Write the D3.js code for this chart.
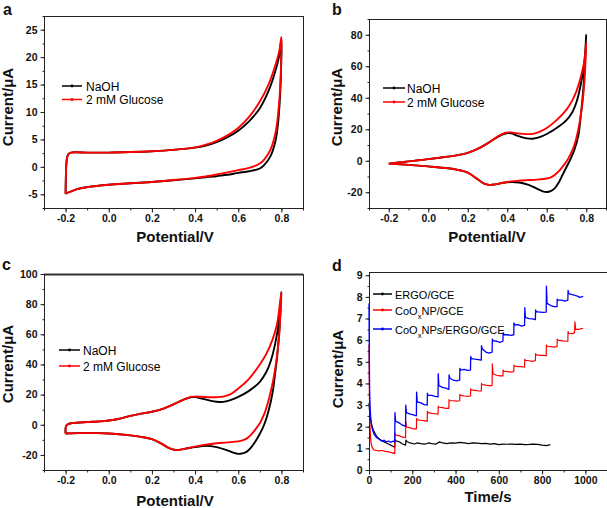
<!DOCTYPE html>
<html><head><meta charset="utf-8">
<script src="https://cdn.jsdelivr.net/npm/d3@7"></script>
<style>
body{margin:0;background:#fff;}
svg{display:block;}
text{font-family:"Liberation Sans", Arial, sans-serif;}
</style>
</head><body>
<svg id="c" width="607" height="508"></svg>
<script>
// ---------------- DATA ----------------
const cvXTicks = [-0.2, 0.0, 0.2, 0.4, 0.6, 0.8];
const aYTicks = [-5, 0, 5, 10, 15, 20, 25];
const bYTicks = [-20, 0, 20, 40, 60, 80];
const cYTicks = [-20, 0, 20, 40, 60, 80, 100];
const dXTicks = [0, 200, 400, 600, 800, 1000];
const dYTicks = [0, 1, 2, 3, 4, 5, 6, 7, 8, 9];
const cvLegend = ["NaOH", "2 mM Glucose"];
const dLegend = ["ERGO/GCE", "CoOxNP/GCE", "CoOxNPs/ERGO/GCE"];
const panelLetters = ["a", "b", "c", "d"];

// panel a : CV (Potential V, Current uA)
const aNaOH = [[-0.2,-4.9],[-0.199,-2.5],[-0.197,0.2],[-0.193,1.7],[-0.186,2.35],[-0.175,2.6],[-0.15,2.65],[-0.1,2.6],[0,2.6],[0.1,2.7],[0.2,2.85],[0.3,3.1],[0.4,3.5],[0.45,3.9],[0.5,4.5],[0.55,5.4],[0.6,6.6],[0.65,8.3],[0.7,10.7],[0.74,13.8],[0.77,17.2],[0.79,20.3],[0.8,23.3],
 [0.799,19],[0.795,14],[0.788,9.5],[0.78,6.5],[0.77,4.3],[0.75,2.0],[0.72,0.3],[0.7,-0.3],[0.65,-0.8],[0.6,-1.1],[0.55,-1.45],[0.5,-1.7],[0.45,-1.9],[0.4,-2.1],[0.3,-2.45],[0.2,-2.75],[0.1,-3.0],[0,-3.25],[-0.1,-3.7],[-0.15,-4.1],[-0.2,-4.9]];
const aGlucose = [[-0.2,-4.9],[-0.199,-2.5],[-0.197,0.2],[-0.193,1.7],[-0.186,2.35],[-0.175,2.6],[-0.15,2.65],[-0.1,2.6],[0,2.6],[0.1,2.7],[0.2,2.85],[0.3,3.1],[0.4,3.55],[0.45,4.05],[0.5,4.75],[0.55,5.75],[0.6,7.1],[0.65,9.1],[0.7,11.9],[0.74,15.0],[0.77,18.3],[0.79,21.1],[0.8,23.7],
 [0.799,19.5],[0.795,15],[0.788,11],[0.78,8],[0.77,5.7],[0.75,3.2],[0.72,1.3],[0.7,0.6],[0.65,-0.2],[0.6,-0.6],[0.55,-1.0],[0.5,-1.4],[0.45,-1.75],[0.4,-2.0],[0.3,-2.4],[0.2,-2.75],[0.1,-3.0],[0,-3.25],[-0.1,-3.7],[-0.15,-4.1],[-0.2,-4.9]];

// panel b
const bNaOH = [[-0.2,-1.8],[-0.15,-1.1],[-0.1,-0.4],[-0.05,0.3],[0,1.0],[0.05,1.8],[0.1,2.6],[0.15,3.6],[0.2,5.0],[0.25,7.5],[0.3,11],[0.35,15],[0.39,17.3],[0.42,17.4],[0.45,16],[0.5,14.2],[0.53,14],[0.56,14.8],[0.6,17],[0.65,20.8],[0.7,25.8],[0.73,31],[0.75,37],[0.77,47],[0.79,62],[0.8,80],
 [0.795,66],[0.79,54],[0.78,38],[0.77,26],[0.76,16],[0.74,7],[0.72,1],[0.7,-4],[0.68,-9],[0.66,-14],[0.64,-17.5],[0.62,-19.3],[0.6,-19.8],[0.58,-19.4],[0.56,-18.3],[0.53,-16.5],[0.5,-15],[0.46,-13.8],[0.42,-13.5],[0.38,-14],[0.34,-15],[0.31,-15.3],[0.28,-14.3],[0.25,-11.8],[0.2,-7.5],[0.15,-5.8],[0.1,-4.8],[0,-3.6],[-0.1,-2.6],[-0.2,-1.8]];
const bGlucose = [[-0.2,-1.8],[-0.15,-1.1],[-0.1,-0.4],[-0.05,0.3],[0,1.0],[0.05,1.8],[0.1,2.6],[0.15,3.6],[0.2,5.0],[0.25,7.5],[0.3,11],[0.35,15.2],[0.39,17.8],[0.42,18],[0.45,17.4],[0.5,16.9],[0.53,17.1],[0.56,18.2],[0.6,20.8],[0.65,25.8],[0.7,32.5],[0.73,38.5],[0.75,44],[0.77,52],[0.79,63],[0.8,75],
 [0.795,60],[0.79,49],[0.78,36],[0.76,20],[0.74,10],[0.72,4],[0.7,-0.5],[0.68,-3.8],[0.66,-6.8],[0.64,-9],[0.62,-10.5],[0.6,-11.3],[0.55,-12],[0.5,-12.3],[0.46,-12.6],[0.42,-13.1],[0.38,-14],[0.34,-15],[0.31,-15.3],[0.28,-14.3],[0.25,-11.8],[0.2,-7.5],[0.15,-5.8],[0.1,-4.8],[0,-3.6],[-0.1,-2.6],[-0.2,-1.8]];

// panel c
const cNaOH = [[-0.2,-5.8],[-0.2,-2.5],[-0.197,-0.6],[-0.19,0.3],[-0.175,1.0],[-0.15,1.3],[-0.1,1.8],[-0.05,2.2],[0,2.8],[0.05,4.0],[0.1,5.9],[0.15,7.4],[0.2,8.6],[0.25,10.5],[0.3,13.5],[0.35,16.8],[0.38,18.2],[0.4,18.3],[0.43,17.4],[0.47,16],[0.5,15.3],[0.53,15.2],[0.56,16.2],[0.6,18.5],[0.65,22.5],[0.7,28.5],[0.73,35],[0.75,42],[0.77,53],[0.79,70],[0.8,88],
 [0.795,74],[0.79,62],[0.78,45],[0.77,33],[0.76,22],[0.74,9],[0.72,0],[0.7,-6],[0.68,-11],[0.66,-15],[0.64,-17.8],[0.62,-19],[0.6,-19.3],[0.58,-18.7],[0.55,-17],[0.5,-14.8],[0.45,-14],[0.4,-14.8],[0.35,-16],[0.31,-16.7],[0.28,-15.5],[0.25,-13],[0.2,-9.5],[0.15,-8],[0.1,-7],[0,-5.8],[-0.1,-5.4],[-0.2,-5.8]];
const cGlucose = [[-0.2,-5.8],[-0.2,-2.5],[-0.197,-0.6],[-0.19,0.3],[-0.175,1.0],[-0.15,1.3],[-0.1,1.8],[-0.05,2.2],[0,2.8],[0.05,4.0],[0.1,5.9],[0.15,7.4],[0.2,8.6],[0.25,10.5],[0.3,13.5],[0.35,16.9],[0.38,18.5],[0.4,18.7],[0.43,18.6],[0.47,18.3],[0.5,18.3],[0.53,18.7],[0.56,20],[0.6,24],[0.65,30.5],[0.7,40],[0.73,47],[0.76,57],[0.78,67],[0.8,88],
 [0.795,72],[0.79,60],[0.78,46],[0.77,36],[0.76,28],[0.74,16],[0.72,7],[0.7,1],[0.68,-3],[0.66,-6.5],[0.64,-9],[0.62,-10.3],[0.6,-11],[0.55,-11.7],[0.5,-12.3],[0.45,-13.2],[0.4,-14.5],[0.35,-16],[0.32,-16.8],[0.3,-16.5],[0.27,-14.8],[0.25,-13],[0.2,-9.5],[0.15,-8],[0.1,-7],[0,-5.8],[-0.1,-5.4],[-0.2,-5.8]];

// panel d : amperometric i-t (Time s, Current uA)
const dErgo = [[0,3.1],[2,2.8],[5,2.5],[10,2.2],[15,2.0],[20,1.85],[30,1.65],[40,1.5],[50,1.42],[60,1.35],[70,1.3],[80,1.25],[90,1.2],[100,1.15],[110,1.1],[119,1.05],[121,1.4],[125,1.35],[140,1.3],[155,1.2],[169,1.15],[171,1.38],[175,1.32],[190,1.25],[210,1.2],[222,1.25],[240,1.22],[260,1.2],[274,1.25],[290,1.22],[310,1.2],[326,1.3],[340,1.25],[360,1.22],[378,1.25],[400,1.24],[420,1.28],[440,1.25],[460,1.22],[480,1.25],[500,1.24],[520,1.22],[540,1.23],[560,1.2],[580,1.22],[600,1.17],[620,1.2],[640,1.19],[660,1.2],[680,1.18],[700,1.2],[720,1.17],[740,1.18],[760,1.2],[780,1.18],[800,1.15],[820,1.13],[838,1.17]];
const dCoOx = [[0,5.8],[1,4.3],[2,3.3],[4,2.3],[6,1.7],[9,1.3],[13,1.08],[18,0.98],[25,0.92],[35,0.9],[45,0.88],[60,0.9],[75,0.86],[90,0.84],[105,0.8],[119,0.76],
 [120,1.72],[123,1.62],[140,1.58],[155,1.52],[169,1.5],
 [170,2.25],[173,2.0],[190,1.95],[205,1.9],[219,1.9],
 [220,2.38],[223,2.32],[240,2.3],[255,2.28],[269,2.25],
 [270,2.72],[273,2.65],[290,2.62],[305,2.6],[319,2.58],
 [320,2.95],[323,2.9],[340,2.88],[355,2.85],[369,2.85],
 [370,3.25],[373,3.2],[390,3.2],[405,3.18],[419,3.2],
 [420,3.5],[423,3.45],[440,3.42],[455,3.4],[469,3.42],
 [470,3.75],[473,3.7],[490,3.68],[505,3.65],[519,3.65],
 [520,4.0],[523,3.95],[540,3.92],[555,3.9],[569,3.9],
 [570,4.9],[573,4.45],[590,4.38],[605,4.35],[619,4.35],
 [620,4.62],[623,4.57],[640,4.55],[655,4.52],[669,4.55],
 [670,4.85],[673,4.8],[690,4.78],[705,4.78],[719,4.75],
 [720,5.12],[723,5.07],[740,5.05],[755,5.02],[769,5.05],
 [770,5.38],[773,5.32],[790,5.3],[805,5.3],[819,5.28],
 [820,5.78],[823,5.72],[840,5.7],[855,5.68],[869,5.7],
 [870,6.05],[873,6.0],[890,5.98],[905,5.95],[919,5.95],
 [920,6.4],[923,6.32],[940,6.3],[950,6.35],[952,6.85],[955,6.5],[970,6.5],[990,6.55]];
const dCoOxErgo = [[0,7.7],[1,6.0],[2,4.6],[3,3.7],[5,2.9],[8,2.4],[12,2.05],[18,1.8],[25,1.62],[35,1.5],[50,1.4],[60,1.33],[70,1.38],[80,1.3],[90,1.34],[100,1.28],[110,1.33],[119,1.3],
 [120,2.65],[123,2.25],[135,2.2],[150,2.1],[169,2.02],
 [170,3.0],[173,2.65],[190,2.58],[205,2.55],[219,2.5],
 [220,3.6],[223,3.15],[240,3.1],[255,3.02],[269,3.0],
 [270,3.55],[273,3.45],[290,3.45],[305,3.4],[319,3.38],
 [320,4.45],[323,3.9],[340,3.82],[355,3.78],[369,3.72],
 [370,4.4],[373,4.25],[390,4.15],[405,4.12],[419,4.15],
 [420,4.7],[423,4.62],[440,4.65],[455,4.6],[469,4.62],
 [470,5.25],[473,5.15],[490,5.12],[505,5.1],[519,5.08],
 [520,5.75],[523,5.6],[540,5.45],[555,5.4],[569,5.45],
 [570,6.05],[573,5.98],[590,5.95],[605,5.9],[619,5.95],
 [620,6.35],[623,6.25],[640,6.25],[655,6.22],[669,6.25],
 [670,6.8],[673,6.7],[690,6.72],[705,6.65],[719,6.68],
 [720,7.5],[723,7.05],[740,7.0],[755,6.98],[769,6.95],
 [770,7.4],[773,7.32],[790,7.3],[805,7.28],[819,7.3],
 [820,8.5],[823,7.7],[840,7.6],[855,7.55],[869,7.55],
 [870,7.9],[873,7.85],[890,7.85],[905,7.8],[919,7.85],
 [920,8.3],[923,8.15],[940,8.1],[960,8.05],[975,7.98],[990,8.02]];

// ---------------- DRAWING ----------------
const svg = d3.select("#c");
svg.append("rect").attr("width", 607).attr("height", 508).attr("fill", "#fff");

const fmt1 = v => (v < -1e-9 ? "-" : "") + Math.abs(v).toFixed(1);
const fmt0 = v => (v < -1e-9 ? "-" : "") + Math.abs(v).toFixed(0);

function panel(o) {
  const x = d3.scaleLinear().domain(o.xDomain).range([o.l, o.r]);
  const y = d3.scaleLinear().domain(o.yDomain).range([o.b, o.t]);
  const g = svg.append("g");

  const line = d3.line().x(d => x(d[0])).y(d => y(d[1]))
    .curve(o.smooth ? d3.curveCatmullRom.alpha(0.5) : d3.curveLinear);
  o.series.forEach(s => {
    g.append("path").attr("d", line(s.data)).attr("fill", "none")
      .attr("stroke", s.color).attr("stroke-width", s.width)
      .attr("stroke-linejoin", "round");
  });

  g.append("rect").attr("x", o.l + 0.5).attr("y", o.t + 0.5)
    .attr("width", o.r - o.l).attr("height", o.b - o.t)
    .attr("fill", "none").attr("stroke", "#222").attr("stroke-width", 1);
  if (o.thickTop) {
    g.append("line").attr("x1", o.l).attr("x2", o.r).attr("y1", o.t + 0.5).attr("y2", o.t + 0.5)
      .attr("stroke", "#333").attr("stroke-width", 2);
  }

  const xa = g.append("g").attr("transform", `translate(0,${o.b + 0.5})`)
    .call(d3.axisBottom(x).tickValues(o.xTicks).tickSize(4).tickPadding(2).tickFormat(o.xFmt));
  const xm = g.append("g").attr("transform", `translate(0,${o.b + 0.5})`)
    .call(d3.axisBottom(x).tickValues(o.xMinor).tickSize(2).tickFormat(""));
  const ya = g.append("g").attr("transform", `translate(${o.l + 0.5},0)`)
    .call(d3.axisLeft(y).tickValues(o.yTicks).tickSize(4).tickPadding(3).tickFormat(o.yFmt));
  const ym = g.append("g").attr("transform", `translate(${o.l + 0.5},0)`)
    .call(d3.axisLeft(y).tickValues(o.yMinor).tickSize(2).tickFormat(""));
  [xa, xm, ya, ym].forEach(a => {
    a.select(".domain").remove();
    a.selectAll("line").attr("stroke", "#222");
    a.selectAll("text").attr("font-family", "Liberation Sans, Arial, sans-serif")
      .attr("font-size", 10.5).attr("font-weight", "bold").attr("fill", "#111");
  });

  g.append("text").attr("x", o.xt[0]).attr("y", o.xt[1]).attr("text-anchor", "middle")
    .attr("font-size", 15).attr("font-weight", "bold").attr("fill", "#111").text(o.xTitle);
  g.append("text").attr("transform", `translate(${o.yt[0]},${o.yt[1]}) rotate(-90)`)
    .attr("text-anchor", "middle").attr("font-size", 15).attr("font-weight", "bold").attr("fill", "#111")
    .text("Current/μA");
  g.append("text").attr("x", o.letter[0]).attr("y", o.letter[1])
    .attr("font-size", 16).attr("font-weight", "bold").attr("fill", "#111").text(o.letterText);

  o.legend.forEach((L, i) => {
    const ly = o.leg.y[i];
    g.append("line").attr("x1", o.leg.x1).attr("x2", o.leg.x2).attr("y1", ly).attr("y2", ly)
      .attr("stroke", L.color).attr("stroke-width", 1.5);
    g.append("circle").attr("cx", (o.leg.x1 + o.leg.x2) / 2).attr("cy", ly).attr("r", 1.4).attr("fill", L.color);
    const t = g.append("text").attr("x", o.leg.tx).attr("y", ly + 4.5)
      .attr("font-size", o.leg.fs).attr("fill", "#000");
    if (L.sub) {
      t.append("tspan").text(L.label.slice(0, 3));
      t.append("tspan").attr("dy", 4).attr("font-size", o.leg.fs * 0.7).text("x");
      t.append("tspan").attr("dy", -4).text(L.label.slice(4));
    } else {
      t.text(L.label);
    }
  });
}

const cvXMinor = d3.range(-0.3, 0.91, 0.1);

panel({
  l: 44, t: 16, r: 303, b: 208, xDomain: [-0.3, 0.9], yDomain: [-7.5, 27.5], smooth: true,
  xTicks: cvXTicks, xMinor: cvXMinor, yTicks: aYTicks, yMinor: d3.range(-7.5, 27.6, 2.5),
  xFmt: fmt1, yFmt: fmt0, xTitle: "Potential/V", xt: [175, 242], yt: [12.5, 107],
  letter: [3, 15], letterText: panelLetters[0],
  series: [{data: aNaOH, color: "#000", width: 1.9}, {data: aGlucose, color: "#f00", width: 1.9}],
  legend: [{label: cvLegend[0], color: "#000"}, {label: cvLegend[1], color: "#f00"}],
  leg: {x1: 62, x2: 82, tx: 86, y: [86, 99.5], fs: 12}
});
panel({
  l: 369, t: 19, r: 606, b: 208, xDomain: [-0.3, 0.9], yDomain: [-30, 90], smooth: true,
  xTicks: cvXTicks, xMinor: cvXMinor, yTicks: bYTicks, yMinor: d3.range(-30, 91, 10),
  xFmt: fmt1, yFmt: fmt0, xTitle: "Potential/V", xt: [487, 242], yt: [341.5, 107],
  letter: [332, 15], letterText: panelLetters[1],
  series: [{data: bNaOH, color: "#000", width: 1.9}, {data: bGlucose, color: "#f00", width: 1.9}],
  legend: [{label: cvLegend[0], color: "#000"}, {label: cvLegend[1], color: "#f00"}],
  leg: {x1: 383, x2: 405, tx: 407, y: [88, 102], fs: 12}
});
panel({
  l: 44, t: 274, r: 303, b: 470, xDomain: [-0.3, 0.9], yDomain: [-30, 100], smooth: true, thickTop: true,
  xTicks: cvXTicks, xMinor: cvXMinor, yTicks: cYTicks, yMinor: d3.range(-30, 101, 10),
  xFmt: fmt1, yFmt: fmt0, xTitle: "Potential/V", xt: [175, 506], yt: [12.5, 364],
  letter: [2, 270], letterText: panelLetters[2],
  series: [{data: cNaOH, color: "#000", width: 1.9}, {data: cGlucose, color: "#f00", width: 1.9}],
  legend: [{label: cvLegend[0], color: "#000"}, {label: cvLegend[1], color: "#f00"}],
  leg: {x1: 59, x2: 80, tx: 83, y: [350, 366], fs: 12}
});
panel({
  l: 369, t: 272, r: 607, b: 470, xDomain: [0, 1100], yDomain: [0, 9.15], smooth: false,
  xTicks: dXTicks, xMinor: d3.range(0, 1101, 100), yTicks: dYTicks, yMinor: d3.range(0, 9.01, 0.5),
  xFmt: fmt0, yFmt: fmt0, xTitle: "Time/s", xt: [488, 502], yt: [342.5, 369],
  letter: [332, 271], letterText: panelLetters[3],
  series: [{data: dErgo, color: "#000", width: 1.2}, {data: dCoOx, color: "#f00", width: 1.2}, {data: dCoOxErgo, color: "#00f", width: 1.3}],
  legend: [{label: dLegend[0], color: "#000"}, {label: dLegend[1], color: "#f00", sub: true}, {label: dLegend[2], color: "#00f", sub: true}],
  leg: {x1: 373, x2: 392, tx: 395, y: [294, 310, 329], fs: 11}
});
</script>
</body></html>
